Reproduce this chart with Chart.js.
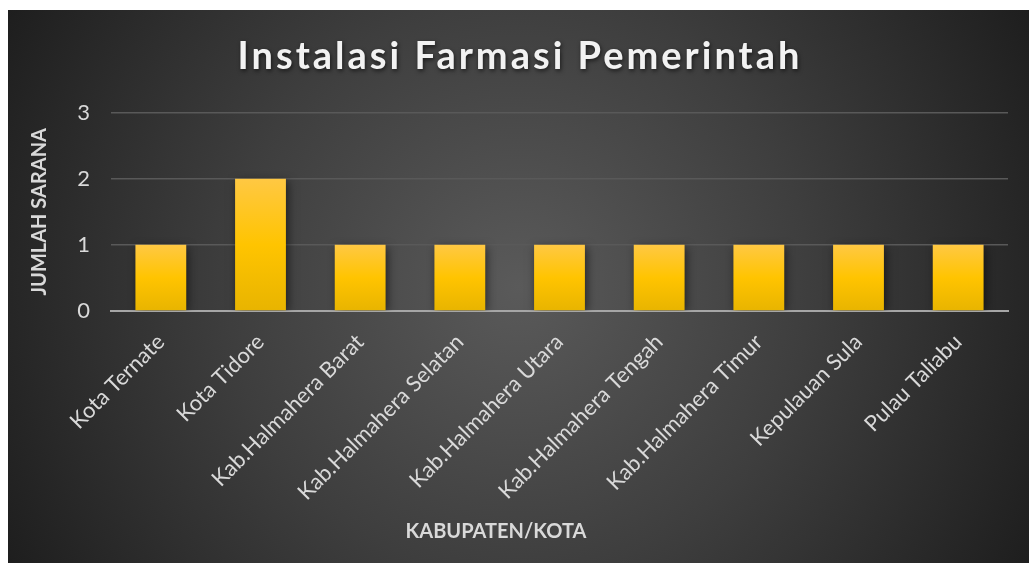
<!DOCTYPE html>
<html>
<head>
<meta charset="utf-8">
<script src="https://cdn.jsdelivr.net/npm/chart.js@4.4.1/dist/chart.umd.min.js"></script>
<style>
  html, body { margin: 0; padding: 0; background: #ffffff; }
  #wrap {
    position: absolute; left: 8px; top: 10px; width: 1021px; height: 553px;
    background: radial-gradient(circle farthest-corner at 50% 50%, #5a5a5a 0%, #3e3e3e 50%, #1e1e1e 100%);
  }
  canvas { display: block; }
</style>
</head>
<body>
<div id="wrap"><canvas id="c" width="1021" height="553"></canvas></div>
<script>
const categories = [
  "Kota Ternate", "Kota Tidore", "Kab.Halmahera Barat", "Kab.Halmahera Selatan",
  "Kab.Halmahera Utara", "Kab.Halmahera Tengah", "Kab.Halmahera Timur",
  "Kepulauan Sula", "Pulau Taliabu"
];
const jumlahSarana = [1, 2, 1, 1, 1, 1, 1, 1, 1];
const yTicks = [0, 1, 2, 3];
const chartTitle = "Instalasi Farmasi Pemerintah";
const xTitle = "KABUPATEN/KOTA";
const yTitle = "JUMLAH SARANA";

const FONT = "Lato, 'Open Sans', sans-serif";

function barGradient(ctx) {
  const chart = ctx.chart;
  if (!chart.chartArea) return '#ffc000';
  const ys = chart.scales.y;
  const v = ctx.raw !== undefined ? ctx.raw : jumlahSarana[ctx.dataIndex];
  const top = ys.getPixelForValue(v);
  const bot = ys.getPixelForValue(0);
  if (!isFinite(top) || !isFinite(bot) || top === bot) return '#ffc000';
  const g = chart.ctx.createLinearGradient(0, top, 0, bot);
  g.addColorStop(0, '#ffc843');
  g.addColorStop(0.5, '#ffc400');
  g.addColorStop(1, '#e8b400');
  return g;
}

const shadowPlugin = {
  id: 'barShadow',
  beforeDatasetsDraw(chart) {
    const c = chart.ctx;
    c.save();
    c.shadowColor = 'rgba(0,0,0,0.55)';
    c.shadowBlur = 9;
    c.shadowOffsetX = 2;
    c.shadowOffsetY = 2;
  },
  afterDatasetsDraw(chart) {
    chart.ctx.restore();
  }
};

const titleStylePlugin = {
  id: 'titleStyle',
  beforeDraw(chart) {
    const tb = chart.titleBlock;
    if (tb && !tb._patched) {
      const orig = tb.draw.bind(tb);
      tb.draw = function () {
        const c = this.ctx;
        c.save();
        c.letterSpacing = '3px';
        c.shadowColor = 'rgba(0,0,0,0.6)';
        c.shadowBlur = 4;
        c.shadowOffsetX = 1;
        c.shadowOffsetY = 2;
        c.translate(5, 0);
        orig();
        c.restore();
      };
      tb._patched = true;
    }
  }
};

// x-axis title, placed like the reference (left of the plot centre)
const xTitlePlugin = {
  id: 'xTitle',
  afterDraw(chart) {
    const c = chart.ctx;
    c.save();
    c.font = "bold 20px " + FONT;
    c.fillStyle = '#d9d9d9';
    c.textAlign = 'center';
    c.textBaseline = 'middle';
    c.fillText(xTitle, 488, 522);
    c.restore();
  }
};

new Chart(document.getElementById('c'), {
  type: 'bar',
  data: {
    labels: categories,
    datasets: [{
      label: yTitle,
      data: jumlahSarana,
      backgroundColor: barGradient,
      borderWidth: 0,
      barPercentage: 0.51,
      categoryPercentage: 1.0
    }]
  },
  options: {
    responsive: false,
    animation: false,
    devicePixelRatio: 1,
    layout: { padding: { left: 14, right: 21, top: 0, bottom: 0 } },
    plugins: {
      legend: { display: false },
      tooltip: { enabled: false },
      title: {
        display: true,
        text: chartTitle,
        color: '#f2f2f2',
        font: { family: FONT, size: 38, weight: 'bold' },
        padding: { top: 24, bottom: 33 }
      }
    },
    scales: {
      x: {
        afterFit(scale) { scale.height = 252; },
        grid: { display: false, drawTicks: false },
        border: { display: true, color: '#a6a6a6', width: 2 },
        ticks: {
          color: '#d9d9d9',
          font: { family: FONT, size: 22 },
          minRotation: 45, maxRotation: 45,
          padding: 18
        },
        title: { display: false }
      },
      y: {
        min: 0, max: 3,
        afterFit(scale) { scale.width = 89; },
        afterBuildTicks(scale) { scale.ticks = yTicks.map(v => ({ value: v })); },
        grid: { color: '#595959', lineWidth: 1.5, drawTicks: false },
        border: { display: false },
        ticks: {
          color: '#d9d9d9',
          font: { family: FONT, size: 22 },
          padding: 21
        },
        title: {
          display: true, text: yTitle, color: '#d9d9d9',
          font: { family: FONT, size: 20, weight: 'bold' },
          padding: { top: 6, bottom: 10 }
        }
      }
    }
  },
  plugins: [shadowPlugin, titleStylePlugin, xTitlePlugin]
});
</script>
</body>
</html>
